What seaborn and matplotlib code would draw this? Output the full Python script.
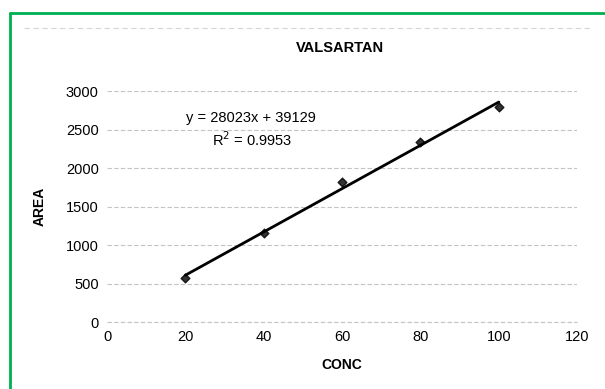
import matplotlib
matplotlib.use('Agg')
import matplotlib.pyplot as plt
import pandas as pd
import seaborn as sns


conc = [20, 40, 60, 80, 100]
area = [570, 1155, 1815, 2335, 2790]
x_ticks = [0, 20, 40, 60, 80, 100, 120]
y_ticks = [0, 500, 1000, 1500, 2000, 2500, 3000]
equation = 'y = 28023x + 39129'
r_squared = 'R$^2$ = 0.9953'

df = pd.DataFrame({'CONC': conc, 'AREA': area})

sns.set_theme(style='white')
plt.rcParams['font.family'] = ['Liberation Sans', 'DejaVu Sans']
plt.rcParams['text.color'] = 'black'
plt.rcParams['axes.labelcolor'] = 'black'
plt.rcParams['xtick.color'] = 'black'
plt.rcParams['ytick.color'] = 'black'

fig = plt.figure(figsize=(6.05, 3.89), dpi=100)
ax = fig.add_axes([0.177, 0.172, 0.777, 0.594])

sns.regplot(
    data=df, x='CONC', y='AREA', ax=ax, ci=None, marker='D', color='black',
    scatter_kws={'s': 20, 'zorder': 3},
    line_kws={'lw': 2, 'zorder': 2},
)

ax.set_xlim(0, 120)
ax.set_ylim(0, 3000)
ax.set_xticks(x_ticks)
ax.set_yticks(y_ticks)
ax.tick_params(axis='both', labelsize=10.5, length=0, pad=6)
for spine in ax.spines.values():
    spine.set_visible(False)
ax.grid(axis='y', color='#c4c4c4', lw=0.8, ls=(0, (4, 2)))
ax.axhline(0, color='#c4c4c4', lw=0.8, ls=(0, (4, 2)), zorder=1, clip_on=False)

ax.set_xlabel('CONC', fontsize=10, fontweight='bold', labelpad=10)
ax.set_ylabel('AREA', fontsize=10, fontweight='bold', labelpad=14)

ax.text(20.2, 2650, equation, fontsize=10.5, va='center', ha='left')
ax.text(26.8, 2365, r_squared, fontsize=10.5, va='center', ha='left')

fig.text(0.562, 0.877, 'VALSARTAN', fontsize=10.5, fontweight='bold',
         ha='center', va='center')

# faint scanned chart frame and green border
fig.add_artist(plt.Line2D([0.04, 0.975], [0.928, 0.928], color='#d6d6d6',
                          lw=0.8, ls=(0, (5, 3)), transform=fig.transFigure))
fig.add_artist(plt.Line2D([0.016, 1.0], [0.966, 0.966], color='#00b050',
                          lw=2, transform=fig.transFigure))
fig.add_artist(plt.Line2D([0.016, 0.016], [0.0, 0.966], color='#00b050',
                          lw=2, transform=fig.transFigure))

fig.savefig('out.png', dpi=100)
